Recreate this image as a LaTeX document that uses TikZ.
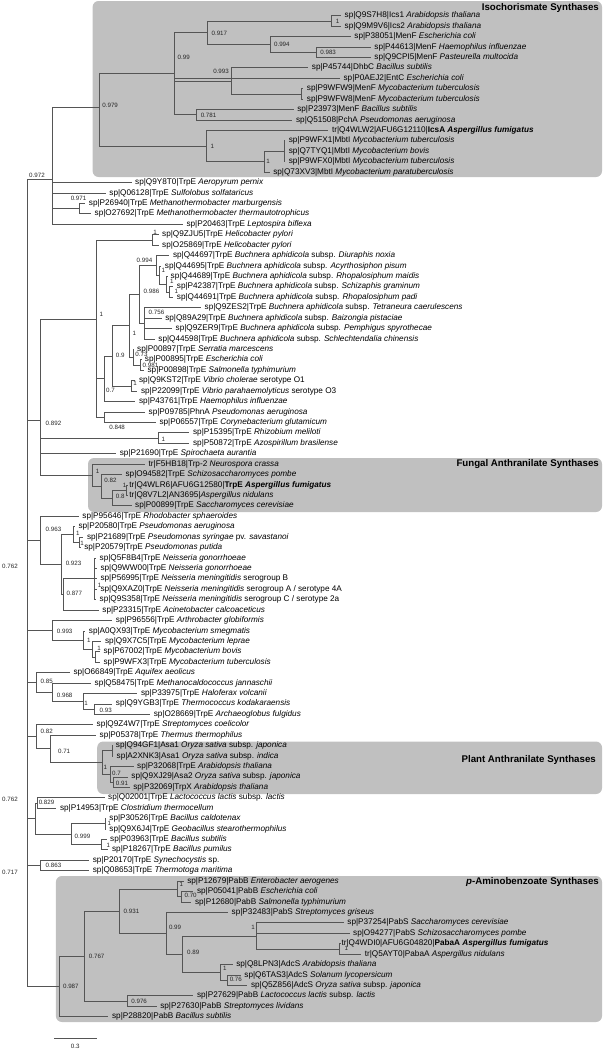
\documentclass[tikz,border=0pt]{standalone}
\usepackage{fontspec}
\setmainfont{Liberation Sans}
\definecolor{boxgray}{RGB}{192,192,192}
\definecolor{linegray}{RGB}{85,85,85}
\tikzset{
 br/.style={draw=linegray, line width=0.75pt},
 lab/.style={anchor=west, inner sep=0pt, font=\fontsize{8.2}{9}\selectfont},
 bs/.style={anchor=west, inner sep=0pt, font=\fontsize{6.2}{7}\selectfont, text=black!85},
 bse/.style={bs, anchor=east},
 grp/.style={fill=boxgray, rounded corners=6pt},
 ttl/.style={anchor=east, inner sep=0pt, font=\fontsize{9.7}{11}\selectfont\bfseries},
}
\newcommand\LF[4]{\coordinate (l#1) at (#2,{15.7+(#1-1)*10.427}); \node[lab] (t#1) at (#3,{15.7+(#1-1)*10.427}) {#4};}
\newcommand\ED[2]{\foreach \c in {#2} {\draw[br] (#1) |- (\c);}}
\begin{document}
\begin{tikzpicture}[x=1pt,y=-1pt]
\useasboundingbox (0,0) rectangle (605,1050);
% group boxes
\path[grp] (92.6,1) rectangle (602,177);
\path[grp] (88,458) rectangle (602,512);
\path[grp] (97.2,741.5) rectangle (602,794);
\path[grp] (55.9,876) rectangle (602,1022);
\node[ttl] (ti1) at (599,7.5) {Isochorismate Synthases};
\node[ttl] (ti2) at (599,464) {Fungal Anthranilate Synthases};
\node[ttl] (ti3) at (596,760) {Plant Anthranilate Synthases};
\node[ttl] (ti4) at (599,881.5) {\textit{p}-Aminobenzoate Synthases};
% leaves
\LF{1}{341}{344.5}{sp|Q9S7H8|Ics1 \textit{Arabidopsis thaliana}}
\LF{2}{341}{344.5}{sp|Q9M9V6|Ics2 \textit{Arabidopsis thaliana}}
\LF{3}{350.7}{354.2}{sp|P38051|MenF \textit{Escherichia coli}}
\LF{4}{370.7}{374.2}{sp|P44613|MenF \textit{Haemophilus influenzae}}
\LF{5}{370.7}{374.2}{sp|Q9CPI5|MenF \textit{Pasteurella multocida}}
\LF{6}{308.2}{311.7}{sp|P45744|DhbC \textit{Bacillus subtilis}}
\LF{7}{339.9}{343.4}{sp|P0AEJ2|EntC \textit{Escherichia coli}}
\LF{8}{303.2}{306.7}{sp|P9WFW9|MenF \textit{Mycobacterium tuberculosis}}
\LF{9}{303.2}{306.7}{sp|P9WFW8|MenF \textit{Mycobacterium tuberculosis}}
\LF{10}{293.6}{297.1}{sp|P23973|MenF \textit{Bacillus subtilis}}
\LF{11}{292.4}{295.9}{sp|Q51508|PchA \textit{Pseudomonas aeruginosa}}
\LF{12}{328.3}{331.8}{tr|Q4WLW2|AFU6G12110|\textbf{IcsA \textit{Aspergillus fumigatus}}}
\LF{13}{285.1}{288.6}{sp|P9WFX1|MbtI \textit{Mycobacterium tuberculosis}}
\LF{14}{285.1}{288.6}{sp|Q7TYQ1|MbtI \textit{Mycobacterium bovis}}
\LF{15}{285.1}{288.6}{sp|P9WFX0|MbtI \textit{Mycobacterium tuberculosis}}
\LF{16}{269.6}{273.1}{sp|Q73XV3|MbtI \textit{Mycobacterium paratuberculosis}}
\LF{17}{131.5}{135}{sp|Q9Y8T0|TrpE \textit{Aeropyrum pernix}}
\LF{18}{105.7}{109.2}{sp|Q06128|TrpE \textit{Sulfolobus solfataricus}}
\LF{19}{85.2}{88.7}{sp|P26940|TrpE \textit{Methanothermobacter marburgensis}}
\LF{20}{91}{94.5}{sp|O27692|TrpE \textit{Methanothermobacter thermautotrophicus}}
\LF{21}{182.8}{186.3}{sp|P20463|TrpE \textit{Leptospira biflexa}}
\LF{22}{158.5}{162}{sp|Q9ZJU5|TrpE \textit{Helicobacter pylori}}
\LF{23}{158.5}{162}{sp|O25869|TrpE \textit{Helicobacter pylori}}
\LF{24}{169.3}{172.8}{sp|Q44697|TrpE \textit{Buchnera aphidicola} subsp. \textit{Diuraphis noxia}}
\LF{25}{161.2}{164.7}{sp|Q44695|TrpE \textit{Buchnera aphidicola} subsp. \textit{Acyrthosiphon pisum}}
\LF{26}{167}{170.5}{sp|Q44689|TrpE \textit{Buchnera aphidicola} subsp. \textit{Rhopalosiphum maidis}}
\LF{27}{173.2}{176.7}{sp|P42387|TrpE \textit{Buchnera aphidicola} subsp. \textit{Schizaphis graminum}}
\LF{28}{173.2}{176.7}{sp|Q44691|TrpE \textit{Buchnera aphidicola} subsp. \textit{Rhopalosiphum padi}}
\LF{29}{201}{204.5}{sp|Q9ZES2|TrpE \textit{Buchnera aphidicola} subsp. \textit{Tetraneura caerulescens}}
\LF{30}{161.6}{165.1}{sp|Q89A29|TrpE \textit{Buchnera aphidicola} subsp. \textit{Baizongia pistaciae}}
\LF{31}{172}{175.5}{sp|Q9ZER9|TrpE \textit{Buchnera aphidicola} subsp. \textit{Pemphigus spyrothecae}}
\LF{32}{154.7}{158.2}{sp|Q44598|TrpE \textit{Buchnera aphidicola} subsp. \textit{Schlechtendalia chinensis}}
\LF{33}{133.5}{137}{sp|P00897|TrpE \textit{Serratia marcescens}}
\LF{34}{141.2}{144.7}{sp|P00895|TrpE \textit{Escherichia coli}}
\LF{35}{143.9}{147.4}{sp|P00898|TrpE \textit{Salmonella typhimurium}}
\LF{36}{135.4}{138.9}{sp|Q9KST2|TrpE \textit{Vibrio cholerae} serotype O1}
\LF{37}{137.3}{140.8}{sp|P22099|TrpE \textit{Vibrio parahaemolyticus} serotype O3}
\LF{38}{135.4}{138.9}{sp|P43761|TrpE \textit{Haemophilus influenzae}}
\LF{39}{145}{148.5}{sp|P09785|PhnA \textit{Pseudomonas aeruginosa}}
\LF{40}{155.8}{159.3}{sp|P06557|TrpE \textit{Corynebacterium glutamicum}}
\LF{41}{189.4}{192.9}{sp|P15395|TrpE \textit{Rhizobium meliloti}}
\LF{42}{189.4}{192.9}{sp|P50872|TrpE \textit{Azospirillum brasilense}}
\LF{43}{116.1}{119.6}{sp|P21690|TrpE \textit{Spirochaeta aurantia}}
\LF{44}{145}{148.5}{tr|F5HB18|Trp-2 \textit{Neurospora crassa}}
\LF{45}{121.9}{125.4}{sp|O94582|TrpE \textit{Schizosaccharomyces pombe}}
\LF{46}{127.3}{129.2}{tr|Q4WLR6|AFU6G12580|\textbf{TrpE \textit{Aspergillus fumigatus}}}
\LF{47}{127.3}{129.2}{tr|Q8V7L2|AN3695|\textit{Aspergillus nidulans}}
\LF{48}{131.5}{135}{sp|P00899|TrpE \textit{Saccharomyces cerevisiae}}
\LF{49}{78.7}{82.2}{sp|P95646|TrpE \textit{Rhodobacter sphaeroides}}
\LF{50}{74.8}{78.3}{sp|P20580|TrpE \textit{Pseudomonas aeruginosa}}
\LF{51}{83.3}{86.8}{sp|P21689|TrpE \textit{Pseudomonas syringae} pv. \textit{savastanoi}}
\LF{52}{80.6}{84.1}{sp|P20579|TrpE \textit{Pseudomonas putida}}
\LF{53}{96.3}{99.5}{sp|Q5F8B4|TrpE \textit{Neisseria gonorrhoeae}}
\LF{54}{96.8}{100.3}{sp|Q9WW00|TrpE \textit{Neisseria gonorrhoeae}}
\LF{55}{96.8}{100.3}{sp|P56995|TrpE \textit{Neisseria meningitidis} serogroup B}
\LF{56}{96.8}{100.3}{sp|Q9XAZ0|TrpE \textit{Neisseria meningitidis} serogroup A / serotype 4A}
\LF{57}{96.3}{99.5}{sp|Q9S358|TrpE \textit{Neisseria meningitidis} serogroup C / serotype 2a}
\LF{58}{98.7}{102.2}{sp|P23315|TrpE \textit{Acinetobacter calcoaceticus}}
\LF{59}{112.2}{115.7}{sp|P96556|TrpE \textit{Arthrobacter globiformis}}
\LF{60}{85.2}{88.7}{sp|A0QX93|TrpE \textit{Mycobacterium smegmatis}}
\LF{61}{101.4}{104.9}{sp|Q9X7C5|TrpE \textit{Mycobacterium leprae}}
\LF{62}{99.9}{103.4}{sp|P67002|TrpE \textit{Mycobacterium bovis}}
\LF{63}{99.9}{103.4}{sp|P9WFX3|TrpE \textit{Mycobacterium tuberculosis}}
\LF{64}{69.8}{73.3}{sp|O66849|TrpE \textit{Aquifex aeolicus}}
\LF{65}{91}{94.5}{sp|Q58475|TrpE \textit{Methanocaldococcus jannaschii}}
\LF{66}{137.3}{140.8}{sp|P33975|TrpE \textit{Haloferax volcanii}}
\LF{67}{112.2}{115.7}{sp|Q9YGB3|TrpE \textit{Thermococcus kodakaraensis}}
\LF{68}{150.1}{153.6}{sp|O28669|TrpE \textit{Archaeoglobus fulgidus}}
\LF{69}{93}{96.5}{sp|Q9Z4W7|TrpE \textit{Streptomyces coelicolor}}
\LF{70}{96}{99.5}{sp|P05378|TrpE \textit{Thermus thermophilus}}
\LF{71}{112.7}{115.7}{sp|Q94GF1|Asa1 \textit{Oryza sativa} subsp. \textit{japonica}}
\LF{72}{113}{116.5}{sp|A2XNK3|Asa1 \textit{Oryza sativa} subsp. \textit{indica}}
\LF{73}{133.5}{137}{sp|P32068|TrpE \textit{Arabidopsis thaliana}}
\LF{74}{127.7}{131.2}{sp|Q9XJ29|Asa2 \textit{Oryza sativa} subsp. \textit{japonica}}
\LF{75}{129.6}{133.1}{sp|P32069|TrpX \textit{Arabidopsis thaliana}}
\LF{76}{104.5}{108}{sp|Q02001|TrpE \textit{Lactococcus lactis} subsp. \textit{lactis}}
\LF{77}{56.3}{59.8}{sp|P14953|TrpE \textit{Clostridium thermocellum}}
\LF{78}{105.7}{109.2}{sp|P30526|TrpE \textit{Bacillus caldotenax}}
\LF{79}{105.7}{109.2}{sp|Q9X6J4|TrpE \textit{Geobacillus stearothermophilus}}
\LF{80}{106.5}{110}{sp|P03963|TrpE \textit{Bacillus subtilis}}
\LF{81}{108.4}{111.9}{sp|P18267|TrpE \textit{Bacillus pumilus}}
\LF{82}{89.1}{92.6}{sp|P20170|TrpE \textit{Synechocystis} sp.}
\LF{83}{89.1}{92.6}{sp|Q08653|TrpE \textit{Thermotoga maritima}}
\LF{84}{183.6}{187.1}{sp|P12679|PabB \textit{Enterobacter aerogenes}}
\LF{85}{193.3}{196.8}{sp|P05041|PabB \textit{Escherichia coli}}
\LF{86}{191.3}{194.8}{sp|P12680|PabB \textit{Salmonella typhimurium}}
\LF{87}{228}{231.5}{sp|P32483|PabS \textit{Streptomyces griseus}}
\LF{88}{343.7}{347.2}{sp|P37254|PabS \textit{Saccharomyces cerevisiae}}
\LF{89}{349.5}{353}{sp|O94277|PabS \textit{Schizosaccharomyces pombe}}
\LF{90}{340}{341.4}{tr|Q4WDI0|AFU6G04820|\textbf{PabaA \textit{Aspergillus fumigatus}}}
\LF{91}{361.1}{364.6}{tr|Q5AYT0|PabaA \textit{Aspergillus nidulans}}
\LF{92}{232.6}{236.1}{sp|Q8LPN3|AdcS \textit{Arabidopsis thaliana}}
\LF{93}{240.7}{244.2}{sp|Q6TAS3|AdcS \textit{Solanum lycopersicum}}
\LF{94}{247.3}{250.8}{sp|Q5Z856|AdcS \textit{Oryza sativa} subsp. \textit{japonica}}
\LF{95}{193.3}{196.8}{sp|P27629|PabB \textit{Lactococcus lactis} subsp. \textit{lactis}}
\LF{96}{156.6}{160.1}{sp|P27630|PabB \textit{Streptomyces lividans}}
\LF{97}{108.4}{111.9}{sp|P28820|PabB \textit{Bacillus subtilis}}
% internal nodes
\coordinate (N1) at (331.8,20.9);
\coordinate (N3) at (316.4,52.2);
\coordinate (N2) at (270.1,44.4);
\coordinate (N0917) at (207.6,32.7);
\coordinate (NMyc) at (300.9,93.9);
\coordinate (N0993) at (231.5,80.9);
\coordinate (N0781) at (196.8,114.8);
\coordinate (N099) at (174.4,73.3);
\coordinate (M3) at (284.3,151.25);
\coordinate (M2) at (264.3,161.7);
\coordinate (M1) at (206.4,146.0);
\coordinate (N0979) at (99.5,107);
\coordinate (N0971) at (79.1,208.6);
\coordinate (N0972) at (52.1,179.3);
\coordinate (NHeli) at (152.4,239.9);
\coordinate (Nc) at (169.8,292);
\coordinate (Nb) at (166.7,284.2);
\coordinate (Na) at (159,275.1);
\coordinate (N0994) at (156.3,265.3);
\coordinate (NB2) at (144.7,323.3);
\coordinate (N0986) at (138.9,294.3);
\coordinate (NEcSal) at (140.8,365);
\coordinate (N073) at (133.1,357.2);
\coordinate (N1BS) at (129.2,325.8);
\coordinate (NVib) at (131.2,385.9);
\coordinate (N09) at (111.9,355.9);
\coordinate (N07) at (104.2,378.7);
\coordinate (N0848) at (104.2,417.1);
\coordinate (N1big) at (96.5,318.9);
\coordinate (NRhiz) at (158.2,438);
\coordinate (NAsp) at (126.5,490.1);
\coordinate (N08) at (111.9,497.9);
\coordinate (N082) at (101.1,486.2);
\coordinate (NF1) at (92.6,475.1);
\coordinate (N0892) at (40.5,420);
\coordinate (NPs2) at (79.1,542.3);
\coordinate (NPs) at (73.3,534.5);
\coordinate (NNeiss) at (94.5,578.8);
\coordinate (N0877) at (63,594.4);
\coordinate (N0923) at (61.7,564.5);
\coordinate (N0963) at (40.5,540.3);
\coordinate (NMyc3) at (95.3,657);
\coordinate (NMyc2) at (92.6,649.1);
\coordinate (NMyc1) at (83,640);
\coordinate (N0993b) at (52.1,630.2);
\coordinate (N093) at (94.5,709.1);
\coordinate (N1arch) at (83,701.3);
\coordinate (N0968) at (52.1,692.2);
\coordinate (N085) at (36.7,682.4);
\coordinate (Nasa1) at (111.9,750.8);
\coordinate (N091) at (113.8,782.1);
\coordinate (N07p) at (110,774.3);
\coordinate (Nplant) at (102.2,762.5);
\coordinate (N071) at (50.2,748.8);
\coordinate (N082s) at (36.7,736.8);
\coordinate (N0829) at (37.4,802.9);
\coordinate (NBc) at (104.9,823.8);
\coordinate (NBs) at (101.1,844.6);
\coordinate (N0999) at (71.4,834.2);
\coordinate (NL) at (35.5,818.6);
\coordinate (N0863) at (40.5,865.5);
\coordinate (N070) at (181.3,896.8);
\coordinate (NEnt) at (177.5,889);
\coordinate (NAsp2) at (339.5,948.9);
\coordinate (Nfung) at (256.6,935.9);
\coordinate (N076) at (227.6,980.2);
\coordinate (Nadc) at (219.9,972.4);
\coordinate (N099p) at (182.1,954.1);
\coordinate (N089) at (165.9,933.3);
\coordinate (N0931) at (119.6,911.1);
\coordinate (N0976) at (127.3,1001.1);
\coordinate (N0767) at (84.1,956.1);
\coordinate (N0987) at (59.8,986.4);
\coordinate (R) at (27,582.8);
% edges
\ED{N1}{l1,l2}
\ED{N3}{l4,l5}
\ED{N2}{l3,N3}
\ED{N0917}{N1,N2}
\ED{NMyc}{l8,l9}
\ED{N0993}{l6,NMyc}
\ED{N0781}{l10,l11}
\ED{N099}{N0917,l7,N0993,N0781}
\ED{M3}{l13,l14,l15}
\ED{M2}{M3,l16}
\ED{M1}{l12,M2}
\ED{N0979}{N099,M1}
\ED{N0971}{l19,l20}
\ED{N0972}{N0979,l17,l18,N0971,l21}
\ED{NHeli}{l22,l23}
\ED{Nc}{l27,l28}
\ED{Nb}{l26,Nc}
\ED{Na}{l25,Nb}
\ED{N0994}{l24,Na}
\ED{NB2}{l29,l30,l31,l32}
\ED{N0986}{N0994,NB2}
\ED{NEcSal}{l34,l35}
\ED{N073}{l33,NEcSal}
\ED{N1BS}{N0986,N073}
\ED{NVib}{l36,l37}
\ED{N09}{N1BS,NVib}
\ED{N07}{N09,l38}
\ED{N0848}{l39,l40}
\ED{N1big}{NHeli,N07,N0848}
\ED{NRhiz}{l41,l42}
\ED{NAsp}{l46,l47}
\ED{N08}{NAsp,l48}
\ED{N082}{l45,N08}
\ED{NF1}{l44,N082}
\ED{N0892}{N1big,NRhiz,l43,NF1}
\ED{NPs2}{l51,l52}
\ED{NPs}{l50,NPs2}
\ED{NNeiss}{l53,l54,l55,l56,l57}
\ED{N0877}{NNeiss,l58}
\ED{N0923}{NPs,N0877}
\ED{N0963}{l49,N0923}
\ED{NMyc3}{l62,l63}
\ED{NMyc2}{l61,NMyc3}
\ED{NMyc1}{l60,NMyc2}
\ED{N0993b}{l59,NMyc1}
\ED{N093}{l67,l68}
\ED{N1arch}{l66,N093}
\ED{N0968}{l65,N1arch}
\ED{N085}{l64,N0968}
\ED{Nasa1}{l71,l72}
\ED{N091}{l74,l75}
\ED{N07p}{l73,N091}
\ED{Nplant}{Nasa1,N07p}
\ED{N071}{l70,Nplant}
\ED{N082s}{l69,N071}
\ED{N0829}{l76,l77}
\ED{NBc}{l78,l79}
\ED{NBs}{l80,l81}
\ED{N0999}{NBc,NBs}
\ED{NL}{N0829,N0999}
\ED{N0863}{l82,l83}
\ED{N070}{l85,l86}
\ED{NEnt}{l84,N070}
\ED{NAsp2}{l90,l91}
\ED{Nfung}{l88,l89,NAsp2}
\ED{N076}{l93,l94}
\ED{Nadc}{l92,N076}
\ED{N099p}{Nfung,Nadc}
\ED{N089}{l87,N099p}
\ED{N0931}{NEnt,N089}
\ED{N0976}{l95,l96}
\ED{N0767}{N0931,N0976}
\ED{N0987}{N0767,l97}
\ED{R}{N0972,N0892,N0963,N0993b,N085,N082s,NL,N0863,N0987}
% support values
\node[bs] (b1) at (335.6,21.7) {1};
\node[bs] (b2) at (211.4,33.3) {0.917};
\node[bs] (b3) at (273.9,44.3) {0.994};
\node[bs] (b4) at (320.2,52.3) {0.983};
\node[bs] (b5) at (177.5,57.7) {0.99};
\node[bse] (b6) at (229,71.7) {0.993};
\node[bs] (b7) at (102.2,105) {0.979};
\node[bs] (b8) at (200.6,115) {0.781};
\node[bs] (b9) at (210.3,146) {1};
\node[bs] (b10) at (266.2,161.7) {1};
\node[bs] (b11) at (29,175) {0.972};
\node[bs] (b12) at (70.6,198.3) {0.971};
\node[bs] (b13) at (153.2,232.7) {1};
\node[bse] (b14) at (152.4,260) {0.994};
\node[bs] (b15) at (161.3,270) {1};
\node[bs] (b16) at (169.8,281.7) {1};
\node[bs] (b17) at (174.4,291) {1};
\node[bs] (b18) at (143.5,291) {0.986};
\node[bs] (b19) at (148.5,312.3) {0.756};
\node[bs] (b20) at (99.5,314.3) {1};
\node[bs] (b21) at (132.3,333.3) {1};
\node[bs] (b22) at (115.7,355) {0.9};
\node[bs] (b23) at (135.2,354.6) {0.73};
\node[bs] (b24) at (142.5,365.2) {0.981};
\node[bs] (b25) at (133.1,383.3) {1};
\node[bs] (b26) at (106,390.7) {0.7};
\node[bs] (b27) at (45.5,423.3) {0.892};
\node[bs] (b28) at (109.2,427.3) {0.848};
\node[bs] (b29) at (161.3,439) {1};
\node[bs] (b30) at (95.7,471.7) {1};
\node[bs] (b31) at (104.2,480) {0.82};
\node[bs] (b32) at (122.7,485) {1};
\node[bs] (b33) at (115.7,496.7) {0.8};
\node[bs] (b34) at (45.5,529) {0.963};
\node[bs] (b35) at (76,533.5) {1};
\node[bs] (b36) at (80.2,543.3) {1};
\node[bs] (b37) at (65.6,563.3) {0.923};
\node[bs] (b38) at (2,566) {0.762};
\node[bs] (b39) at (97.6,585) {1};
\node[bs] (b40) at (66.4,593.3) {0.877};
\node[bs] (b41) at (56.7,631) {0.993};
\node[bs] (b42) at (86.8,640) {1};
\node[bs] (b43) at (97.2,648.3) {1};
\node[bs] (b44) at (40.5,681) {0.85};
\node[bs] (b45) at (56.7,695) {0.968};
\node[bs] (b46) at (84.1,703.3) {1};
\node[bs] (b47) at (99.5,710) {0.93};
\node[bs] (b48) at (40.5,731.7) {0.82};
\node[bs] (b49) at (57.9,751.7) {0.71};
\node[bs] (b50) at (103.4,767.3) {1};
\node[bs] (b51) at (111.9,773.3) {0.7};
\node[bs] (b52) at (115.7,783.3) {0.91};
\node[bs] (b53) at (2,799.3) {0.762};
\node[bs] (b54) at (38.6,802.3) {0.829};
\node[bs] (b55) at (107.3,823.8) {1};
\node[bs] (b56) at (74.5,836.7) {0.999};
\node[bs] (b57) at (106.5,845) {1};
\node[bs] (b58) at (45.5,865) {0.863};
\node[bs] (b59) at (2,872.7) {0.717};
\node[bs] (b60) at (179.4,884.3) {1};
\node[bs] (b61) at (184.4,895.7) {0.70};
\node[bs] (b62) at (123.5,911) {0.931};
\node[bse] (b63) at (181.3,927.3) {0.99};
\node[bse] (b64) at (255,927.3) {1};
\node[bs] (b65) at (344.5,948.3) {1};
\node[bs] (b66) at (187,952.3) {0.89};
\node[bs] (b67) at (88.7,956) {0.767};
\node[bs] (b68) at (223,968.3) {1};
\node[bs] (b69) at (229.6,979.3) {0.76};
\node[bs] (b70) at (62.9,986.7) {0.987};
\node[bs] (b71) at (131.2,1001) {0.976};
% scale bar
\coordinate (sb1) at (54,1038.3);
\coordinate (sb2) at (96.5,1038.3);
\draw[br] (sb1) -- (sb2);
\node[bs, anchor=center] (sbl) at (75.2,1046.7) {0.3};
\end{tikzpicture}
\end{document}
